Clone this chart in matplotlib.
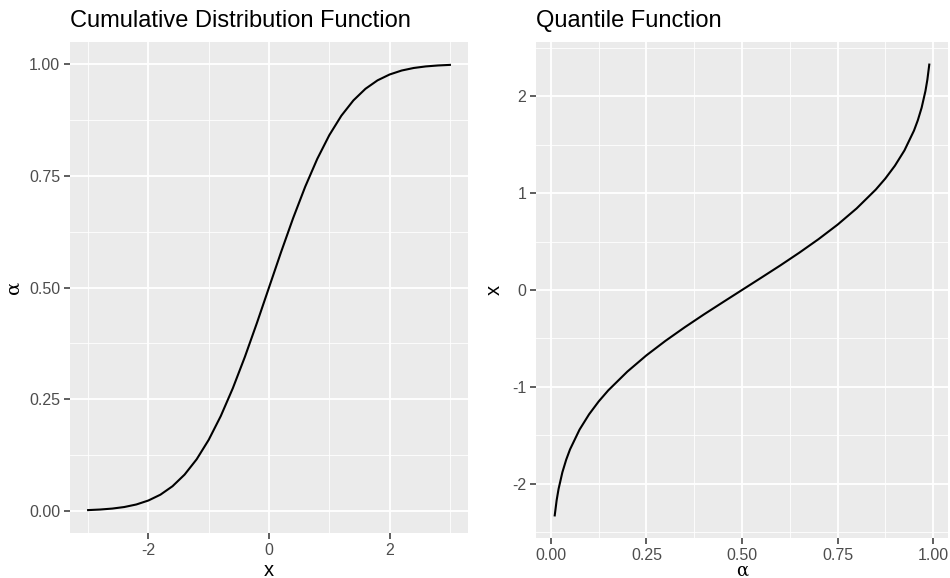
import numpy as np
import matplotlib
matplotlib.use("Agg")
import matplotlib.pyplot as plt
from matplotlib.ticker import FixedLocator

# CDF curve
cdf_x = [-3.0, -2.8, -2.6, -2.4, -2.2, -2.0, -1.8, -1.6, -1.4, -1.2, -1.0,
         -0.8, -0.6, -0.4, -0.2, 0.0, 0.2, 0.4, 0.6, 0.8, 1.0,
         1.2, 1.4, 1.6, 1.8, 2.0, 2.2, 2.4, 2.6, 2.8, 3.0]
cdf_alpha = [0.0013, 0.0026, 0.0047, 0.0082, 0.0139, 0.0228, 0.0359, 0.0548, 0.0808, 0.1151, 0.1587,
             0.2119, 0.2743, 0.3446, 0.4207, 0.5000, 0.5793, 0.6554, 0.7257, 0.7881, 0.8413,
             0.8849, 0.9192, 0.9452, 0.9641, 0.9772, 0.9861, 0.9918, 0.9953, 0.9974, 0.9987]

# quantile curve
q_alpha = [0.01, 0.015, 0.02, 0.03, 0.04, 0.05, 0.075, 0.10, 0.125, 0.15, 0.20, 0.25, 0.30,
           0.35, 0.40, 0.45, 0.50, 0.55, 0.60, 0.65, 0.70, 0.75, 0.80, 0.85,
           0.875, 0.90, 0.925, 0.95, 0.96, 0.97, 0.98, 0.985, 0.99]
q_x = [-2.326, -2.170, -2.054, -1.881, -1.751, -1.645, -1.440, -1.282, -1.150, -1.036, -0.842, -0.674, -0.524,
       -0.385, -0.253, -0.126, 0.0, 0.126, 0.253, 0.385, 0.524, 0.674, 0.842, 1.036,
       1.150, 1.282, 1.440, 1.645, 1.751, 1.881, 2.054, 2.170, 2.326]

left_xticks = [-2, 0, 2]
left_yticks = [0.0, 0.25, 0.5, 0.75, 1.0]
right_xticks = [0.0, 0.25, 0.5, 0.75, 1.0]
right_yticks = [-2, -1, 0, 1, 2]

plt.rcParams['font.family'] = ['Liberation Sans', 'DejaVu Sans']
plt.rcParams['axes.unicode_minus'] = False

fig = plt.figure(figsize=(9.5, 5.78), dpi=100)
ax1 = fig.add_axes([70/950, 1 - 533/578, 398/950, 491/578])
ax2 = fig.add_axes([536/950, 1 - 538/578, 412/950, 496/578])


def gg_style(ax, xticks, yticks, xminor, yminor):
    ax.set_facecolor('#EBEBEB')
    for s in ax.spines.values():
        s.set_visible(False)
    ax.set_xticks(xticks)
    ax.set_yticks(yticks)
    ax.xaxis.set_minor_locator(FixedLocator(xminor))
    ax.yaxis.set_minor_locator(FixedLocator(yminor))
    ax.grid(which='major', color='white', linewidth=1.3)
    ax.grid(which='minor', color='white', linewidth=0.6)
    ax.set_axisbelow(True)
    ax.tick_params(which='major', length=4, width=1.1, color='#333333',
                   labelcolor='#4D4D4D', labelsize=11.5, pad=3)
    ax.tick_params(which='minor', length=0)


ax1.plot(cdf_x, cdf_alpha, color='black', linewidth=1.5)
ax1.set_xlim(-3.3, 3.3)
ax1.set_ylim(-0.05, 1.05)
gg_style(ax1, left_xticks, left_yticks, [-3, -1, 1, 3], [0.125, 0.375, 0.625, 0.875])
ax1.set_yticklabels(['0.00', '0.25', '0.50', '0.75', '1.00'])
ax1.set_xlabel('x', fontsize=14.5, labelpad=2)
ax1.set_ylabel('α', fontsize=14, family='DejaVu Serif', labelpad=5)
ax1.set_title('Cumulative Distribution Function', fontsize=17, loc='left', pad=11)

ax2.plot(q_alpha, q_x, color='black', linewidth=1.5)
ax2.set_xlim(-0.039, 1.039)
ax2.set_ylim(-2.559, 2.559)
gg_style(ax2, right_xticks, right_yticks, [0.125, 0.375, 0.625, 0.875], [-2.5, -1.5, -0.5, 0.5, 1.5, 2.5])
ax2.set_xticklabels(['0.00', '0.25', '0.50', '0.75', '1.00'])
ax2.set_xlabel('α', fontsize=13, family='DejaVu Serif', labelpad=-1)
ax2.set_ylabel('x', fontsize=14.5, labelpad=6)
ax2.set_title('Quantile Function', fontsize=17, loc='left', pad=11)

fig.savefig('out.png', dpi=100)
